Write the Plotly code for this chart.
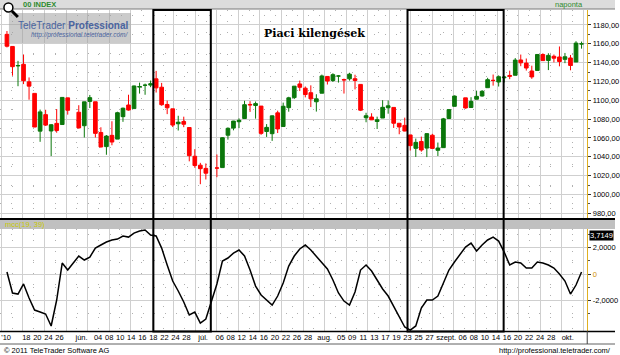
import numpy as np
import plotly.graph_objects as go

# ---------------- data ----------------
dates = [
    "2010-05-13", "2010-05-14", "2010-05-17", "2010-05-18", "2010-05-19", "2010-05-20", "2010-05-21",
    "2010-05-24", "2010-05-25", "2010-05-26", "2010-05-27", "2010-05-28",
    "2010-06-01", "2010-06-02", "2010-06-03", "2010-06-04", "2010-06-07", "2010-06-08", "2010-06-09",
    "2010-06-10", "2010-06-11", "2010-06-14", "2010-06-15", "2010-06-16", "2010-06-17", "2010-06-18",
    "2010-06-21", "2010-06-22", "2010-06-23", "2010-06-24", "2010-06-25", "2010-06-28", "2010-06-29",
    "2010-06-30",
    "2010-07-01", "2010-07-02", "2010-07-06", "2010-07-07", "2010-07-08", "2010-07-09", "2010-07-12",
    "2010-07-13", "2010-07-14", "2010-07-15", "2010-07-16", "2010-07-19", "2010-07-20", "2010-07-21",
    "2010-07-22", "2010-07-23", "2010-07-26", "2010-07-27", "2010-07-28", "2010-07-29", "2010-07-30",
    "2010-08-02", "2010-08-03", "2010-08-04", "2010-08-05", "2010-08-06", "2010-08-09", "2010-08-10",
    "2010-08-11", "2010-08-12", "2010-08-13", "2010-08-16", "2010-08-17", "2010-08-18", "2010-08-19",
    "2010-08-20", "2010-08-23", "2010-08-24", "2010-08-25", "2010-08-26", "2010-08-27", "2010-08-30",
    "2010-08-31",
    "2010-09-01", "2010-09-02", "2010-09-03", "2010-09-07", "2010-09-08", "2010-09-09", "2010-09-10",
    "2010-09-13", "2010-09-14", "2010-09-15", "2010-09-16", "2010-09-17", "2010-09-20", "2010-09-21",
    "2010-09-22", "2010-09-23", "2010-09-24", "2010-09-27", "2010-09-28", "2010-09-29", "2010-09-30",
    "2010-10-01", "2010-10-04", "2010-10-05", "2010-10-06",
]
opens = [
    1170.04, 1157.19, 1136.52, 1138.21, 1119.57, 1107.34, 1067.26, 1084.78, 1067.42, 1075.51, 1074.27, 1102.59,
    1087.30, 1073.01, 1098.82, 1098.43, 1065.84, 1050.81, 1062.75, 1058.77, 1082.65, 1095.00, 1091.21, 1114.02,
    1115.98, 1116.16, 1122.79, 1113.90, 1095.57, 1090.93, 1075.10, 1077.50, 1071.10, 1040.56,
    1031.10, 1027.65, 1028.09, 1028.54, 1062.92, 1070.50, 1077.23, 1080.65, 1095.61, 1094.46, 1093.85, 1066.85,
    1064.53, 1086.67, 1072.14, 1092.17, 1102.89, 1117.36, 1112.84, 1108.07, 1098.44,
    1107.53, 1125.34, 1121.06, 1125.78, 1122.07, 1122.80, 1122.92, 1116.89, 1081.48, 1082.22, 1077.49, 1081.16,
    1092.08, 1092.44, 1075.63, 1073.36, 1063.20, 1048.98, 1056.28, 1049.27, 1062.90, 1046.88,
    1049.72, 1080.66, 1093.61, 1102.60, 1092.36, 1101.15, 1104.57, 1113.38, 1121.16, 1119.43, 1123.89, 1126.39,
    1126.57, 1142.82, 1139.49, 1131.10, 1131.69, 1148.64, 1142.31, 1146.75, 1145.97,
    1143.49, 1144.96, 1140.68, 1159.81,
]
highs = [
    1173.57, 1157.19, 1141.88, 1148.66, 1124.27, 1107.34, 1090.16, 1089.95, 1074.75, 1090.75, 1103.52, 1102.59,
    1094.77, 1098.56, 1105.67, 1098.43, 1071.36, 1063.15, 1077.74, 1087.85, 1092.25, 1105.91, 1115.59, 1118.74,
    1117.72, 1121.01, 1131.23, 1118.50, 1099.64, 1090.93, 1083.56, 1082.60, 1071.10, 1048.08,
    1033.58, 1032.95, 1042.50, 1060.89, 1071.25, 1078.16, 1080.78, 1099.46, 1099.08, 1098.66, 1093.85, 1074.70,
    1083.94, 1088.96, 1097.50, 1103.73, 1115.01, 1120.95, 1114.66, 1115.90, 1106.44,
    1127.30, 1125.44, 1128.75, 1126.56, 1123.06, 1129.24, 1127.16, 1116.89, 1086.72, 1086.25, 1082.62, 1100.14,
    1099.77, 1092.44, 1075.63, 1081.58, 1063.20, 1059.38, 1061.45, 1065.21, 1064.40, 1055.14,
    1081.30, 1090.10, 1105.10, 1102.60, 1103.26, 1110.27, 1110.88, 1123.87, 1127.36, 1126.46, 1125.44, 1131.47,
    1144.86, 1148.59, 1144.38, 1136.77, 1148.90, 1149.92, 1150.00, 1148.63, 1157.16,
    1150.30, 1148.16, 1162.76, 1162.33,
]
lows = [
    1156.14, 1126.14, 1114.96, 1117.20, 1100.66, 1071.58, 1055.90, 1072.70, 1040.78, 1065.59, 1074.27, 1084.78,
    1069.89, 1060.50, 1091.81, 1060.50, 1049.86, 1042.17, 1052.25, 1058.77, 1077.12, 1089.03, 1091.21, 1107.13,
    1105.87, 1113.93, 1108.24, 1094.18, 1085.31, 1071.60, 1067.89, 1071.45, 1035.18, 1028.33,
    1010.91, 1015.93, 1018.35, 1028.54, 1058.24, 1068.10, 1070.45, 1080.65, 1087.68, 1080.53, 1063.32, 1061.11,
    1056.88, 1065.25, 1072.14, 1087.88, 1101.30, 1109.78, 1103.11, 1092.82, 1088.01,
    1107.53, 1116.76, 1119.46, 1118.81, 1107.17, 1120.91, 1111.58, 1088.55, 1076.69, 1079.00, 1069.49, 1081.16,
    1085.76, 1070.66, 1063.91, 1067.08, 1046.68, 1039.83, 1045.40, 1039.70, 1048.79, 1040.88,
    1049.72, 1080.39, 1093.61, 1091.15, 1092.36, 1101.15, 1103.92, 1113.38, 1115.58, 1114.63, 1118.88, 1122.43,
    1126.57, 1136.22, 1131.58, 1122.79, 1131.69, 1142.00, 1132.09, 1140.26, 1136.08,
    1139.42, 1131.87, 1140.68, 1154.85,
]
closes = [
    1157.44, 1135.68, 1136.94, 1120.80, 1115.05, 1071.59, 1087.69, 1073.65, 1074.03, 1067.95, 1103.06, 1089.41,
    1070.71, 1098.38, 1102.83, 1064.88, 1050.47, 1062.00, 1055.69, 1086.84, 1091.60, 1089.63, 1115.23, 1114.61,
    1116.04, 1117.51, 1113.20, 1095.31, 1092.04, 1073.69, 1076.76, 1074.57, 1041.24, 1030.71,
    1027.37, 1022.58, 1028.06, 1060.27, 1070.25, 1077.96, 1078.75, 1095.34, 1095.17, 1096.48, 1064.88, 1071.25,
    1083.48, 1069.59, 1093.67, 1102.66, 1115.01, 1113.84, 1106.13, 1101.53, 1101.60,
    1125.86, 1120.46, 1127.24, 1125.81, 1121.64, 1127.79, 1121.06, 1089.47, 1083.61, 1079.25, 1079.38, 1092.54,
    1094.16, 1075.63, 1071.69, 1067.36, 1051.87, 1055.33, 1047.22, 1064.59, 1048.92, 1049.33,
    1080.29, 1090.10, 1104.51, 1091.84, 1098.87, 1104.18, 1109.55, 1121.90, 1121.10, 1125.07, 1124.66, 1125.59,
    1142.71, 1139.78, 1134.28, 1124.83, 1148.67, 1142.16, 1147.70, 1144.73, 1141.20,
    1146.24, 1137.03, 1160.75, 1159.97,
]
mcc = [
    0.15, -1.43, -1.51, -0.75, -1.81, -2.72, -2.87, -3.02, -3.92, -1.96, 0.83, 0.30,
    1.36, 1.06, 1.28, 1.96, 2.19, 2.42, 2.57, 2.64, 2.87, 2.79, 3.09, 3.25, 3.32, 2.94, 2.87, 1.96,
    0.68, -0.53, -1.28, -2.11,
    -3.09, -2.87, -3.70, -3.40, -0.75, 0.98, 1.21, 1.58, 1.81, 1.36, 0.30, -0.91, -1.58, -1.96,
    -2.34, -1.66, -0.68, 0.60, 1.36,
    1.89, 2.19, 1.81, 1.36, 0.83, 0.38, -0.45, -1.43, -2.04, -2.34, -1.36, 0.30, 0.68, 0.23, -0.45,
    -1.13, -1.66, -2.42, -3.17, -4.00, -4.23, -3.92,
    -2.57, -1.96, -1.96, -1.66, -0.68, 0.30, 0.91, 2.04, 2.34, 1.74, 2.19, 2.57, 2.79, 2.49, 1.66,
    0.68, 0.91, 0.83, 0.45, 0.45, 0.91, 0.83, 0.68, 0.45, 0.00,
    -0.53, -1.51, -0.83, 0.15,
]
mcc_last_label = "3,7149"

year_label = "'10"
tick_dates = [
    "2010-05-18", "2010-05-20", "2010-05-24", "2010-05-26", "2010-06-01", "2010-06-04",
    "2010-06-08", "2010-06-10", "2010-06-14", "2010-06-16", "2010-06-18", "2010-06-22", "2010-06-24",
    "2010-06-28", "2010-07-01", "2010-07-06", "2010-07-08", "2010-07-12", "2010-07-14", "2010-07-16",
    "2010-07-20", "2010-07-22", "2010-07-26", "2010-07-28", "2010-08-02", "2010-08-05", "2010-08-09",
    "2010-08-11", "2010-08-13", "2010-08-17", "2010-08-19", "2010-08-23", "2010-08-25", "2010-08-27",
    "2010-09-01", "2010-09-06", "2010-09-08", "2010-09-10", "2010-09-14", "2010-09-16", "2010-09-20",
    "2010-09-22", "2010-09-24", "2010-09-28", "2010-10-01",
]
tick_texts = [
    "18", "20", "24", "26", "jún.", "04", "08", "10", "14", "16", "18", "22", "24", "28", "júl.",
    "06", "08", "12", "14", "16", "20", "22", "26", "28", "aug.", "05", "09", "11", "13", "17", "19",
    "23", "25", "27", "szept.", "06", "08", "10", "14", "16", "20", "22", "24", "28", "okt.",
]
price_ticks = [980, 1000, 1020, 1040, 1060, 1080, 1100, 1120, 1140, 1160, 1180]
mcc_ticks = [-2, 0, 2]
# highlighted periods (start, end) as trading-day positions
box_periods = [("2010-06-18", "2010-07-02"), ("2010-08-23", "2010-09-15")]

# ---------------- layout helpers ----------------
W, H = 620, 355
def py(p):
    return (H - p) / H
def px(p):
    return p / W

start = dates[0]
slots = np.busday_count(start, np.array(dates, dtype="datetime64[D]"))
tick_pos = list(np.busday_count(start, np.array(tick_dates, dtype="datetime64[D]")) + 0.5)
all_tick_pos = [-0.15] + tick_pos
all_tick_text = [year_label] + tick_texts

XDOM = [0, px(592)]
XRANGE = [-1.26, 105.03]
FONT = "Liberation Sans, Arial, sans-serif"
GRID = "#cfcfcf"
DOT = "#b0b0b0"
GOLD = "#e0b020"

fig = go.Figure()
fig.add_trace(go.Candlestick(
    x=slots, open=opens, high=highs, low=lows, close=closes,
    increasing=dict(line=dict(color="#0b770b", width=1), fillcolor="#0b770b"),
    decreasing=dict(line=dict(color="#ff0000", width=1), fillcolor="#ff0000"),
    whiskerwidth=0, xaxis="x", yaxis="y", showlegend=False, hoverinfo="skip"))
fig.add_trace(go.Scatter(
    x=slots, y=mcc, mode="lines", line=dict(color="black", width=1.5),
    xaxis="x2", yaxis="y2", showlegend=False, hoverinfo="skip"))
fig.add_trace(go.Scatter(x=[None], y=[None], xaxis="x3", yaxis="y2", showlegend=False))

vgrid = dict(tickmode="linear", tick0=2.9, dtick=3.9, showgrid=True, gridcolor=GRID, gridwidth=1,
             showticklabels=False, ticks="", zeroline=False, showline=False, range=XRANGE, domain=XDOM,
             minor=dict(tickmode="linear", tick0=4.85, dtick=3.9, showgrid=True, gridcolor=DOT,
                        griddash="1px,10px", gridwidth=1, ticks=""))

fig.update_layout(
    width=W, height=H, margin=dict(l=0, r=0, t=0, b=0),
    paper_bgcolor="white", plot_bgcolor="white",
    boxgap=0.05, boxgroupgap=0.3,
    xaxis=dict(anchor="y", rangeslider=dict(visible=False), **vgrid),
    xaxis2=dict(anchor="y2", **vgrid),
    xaxis3=dict(anchor="y2", overlaying="x2", range=XRANGE, domain=XDOM, tickmode="array",
                tickvals=all_tick_pos, ticktext=all_tick_text, showgrid=False, ticks="", zeroline=False,
                ticklabeloverflow="allow",
                tickfont=dict(family=FONT, size=7.5, color="black"), tickangle=0, side="bottom"),
    yaxis=dict(anchor="x", domain=[py(218), py(10)], range=[975, 1195.9], side="right",
               tickmode="array", tickvals=price_ticks,
               ticktext=[f"{v:.2f}".replace(".", ",") for v in price_ticks],
               showgrid=True, gridcolor=GRID, zeroline=False,
               showline=True, linecolor=GOLD, linewidth=1, ticks="outside", ticklen=3, tickcolor="#333",
               tickfont=dict(family=FONT, size=7.5, color="black"),
               minor=dict(tickmode="array", tickvals=[v + 10 for v in price_ticks], showgrid=True,
                          gridcolor=DOT, griddash="1px,10px", ticks="outside", ticklen=2, tickcolor="#555")),
    yaxis2=dict(anchor="x2", domain=[py(331), py(229)], range=[-4.30, 3.40], side="right",
                tickmode="array", tickvals=mcc_ticks,
                ticktext=["-2,0000", "<span style='color:#d09000'>0</span>", "2,0000"],
                showgrid=True, gridcolor=GRID, zeroline=False,
                showline=True, linecolor=GOLD, linewidth=1, ticks="outside", ticklen=3, tickcolor="#333",
                tickfont=dict(family=FONT, size=7.5, color="black"),
                minor=dict(tickmode="array", tickvals=[-3, -1, 1, 3], showgrid=True,
                           gridcolor=DOT, griddash="1px,10px", ticks="outside", ticklen=2, tickcolor="#555")),
)

shapes = []
# top title bar
shapes.append(dict(type="rect", xref="paper", yref="paper", x0=0, x1=1, y0=py(9), y1=1,
                   fillcolor="#dcdcdc", line=dict(width=0), layer="above"))
shapes.append(dict(type="line", xref="paper", yref="paper", x0=0, x1=1, y0=py(9), y1=py(9),
                   line=dict(color="#7a7a7a", width=1), layer="above"))
# separator between panels
shapes.append(dict(type="rect", xref="paper", yref="paper", x0=0, x1=1, y0=py(229), y1=py(220),
                   fillcolor="#c0c0c0", line=dict(width=0), layer="above"))
shapes.append(dict(type="rect", xref="paper", yref="paper", x0=0, x1=1, y0=py(220), y1=py(218),
                   fillcolor="black", line=dict(width=0), layer="above"))
# bottom of lower panel / x label strip / footer line
shapes.append(dict(type="line", xref="paper", yref="paper", x0=0, x1=1, y0=py(331.5), y1=py(331.5),
                   line=dict(color="black", width=1.5), layer="above"))
shapes.append(dict(type="line", xref="paper", yref="paper", x0=0, x1=1, y0=py(344), y1=py(344),
                   line=dict(color="#606060", width=1), layer="above"))
shapes.append(dict(type="line", xref="paper", yref="paper", x0=px(592), x1=px(592), y0=py(344), y1=py(331),
                   line=dict(color="#404040", width=1), layer="above"))
# watermark box
shapes.append(dict(type="rect", xref="paper", yref="paper", x0=px(9), x1=px(132), y0=py(43), y1=py(13),
                   fillcolor="rgba(160,160,160,0.55)", line=dict(width=0), layer="above"))
# magnifier icon
shapes.append(dict(type="circle", xref="paper", yref="paper", x0=px(4), x1=px(13), y0=py(12), y1=py(3),
                   fillcolor="white", line=dict(color="black", width=1.5), layer="above"))
shapes.append(dict(type="line", xref="paper", yref="paper", x0=px(12), x1=px(18), y0=py(11), y1=py(17),
                   line=dict(color="black", width=3), layer="above"))
# highlighted period boxes
box_offsets = (0.5, 0.9)
for a, b in box_periods:
    s0 = np.busday_count(start, a) + box_offsets[0]
    s1 = np.busday_count(start, b) + box_offsets[1]
    shapes.append(dict(type="rect", xref="x", yref="paper", x0=s0, x1=s1, y0=py(331.5), y1=py(10),
                       line=dict(color="black", width=2), fillcolor="rgba(0,0,0,0)", layer="above"))
fig.update_layout(shapes=shapes)

ann = []
def txt(x, y, s, size=7.5, color="black", xa="left", family=FONT, **kw):
    ann.append(dict(xref="paper", yref="paper", x=px(x), y=py(y), text=s, showarrow=False,
                    xanchor=xa, yanchor="middle", font=dict(family=family, size=size, color=color), **kw))

txt(21, 4.5, "<b>00 INDEX</b>", size=7.5, color="#2e8b2e")
txt(590, 4.5, "naponta", size=7.5, color="#2e8b2e", xa="right")
txt(317, 34, "<b>Piaci kilengések</b>", size=11, xa="center", family="DejaVu Serif, serif")
txt(16, 25.5, "TeleTrader <b>Professional</b>", size=10, color="#4a64a0")
txt(29, 35, "<i>http://professional.teletrader.com/</i>", size=6.5, color="#4a64a0")
txt(3, 224.5, "mcc(19, 39)", size=7.5, color="#c8c800")
txt(2, 350, "© 2011 TeleTrader Software AG", size=7.5)
txt(618, 350, "http://professional.teletrader.com/", size=7.5, xa="right")
ann.append(dict(xref="paper", yref="paper", x=px(594), y=py(229.5), text=mcc_last_label, showarrow=False,
                xanchor="left", yanchor="top", bgcolor="black", borderpad=0,
                font=dict(family=FONT, size=7.5, color="white")))
fig.update_layout(annotations=ann)

fig.write_html("out.html")
